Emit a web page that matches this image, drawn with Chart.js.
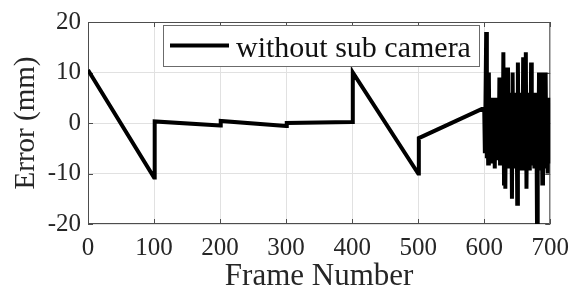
<!DOCTYPE html>
<html>
<head>
<meta charset="utf-8">
<script src="https://cdn.jsdelivr.net/npm/chart.js@4.4.1/dist/chart.umd.min.js"></script>
<style>
html, body { margin: 0; padding: 0; background: #fff; }
</style>
</head>
<body>
<canvas id="errChart" width="578" height="302"></canvas>
<script>
// data
const rampFrames = [0, 100, 101, 200, 201, 300, 301, 400, 401, 500, 501, 600];
const rampErrors = [10.5, -10.8, 0.3, -0.5, 0.4, -0.6, 0.0, 0.2, 10.0, -10.0, -3.0, 3.0];
// frames 601..700, one value per frame
const noiseErrors = [
    -6, 5, 18, -7, 4, -8, 10, -6, 5, -8,
    4, -7, 5, -6, 4, -9, 5, -7, 4, -6,
    5, -7, 9, -8, 6, -6, 4, -8, 14, -12,
    5, -13, 6, -7, 11, -9, 5, -7, 6, -9,
    5, -15, 10, -8, 5, -7, 6, -9, 5, -16,
    12, -7, 6, -8, 5, -9, 6, -8, 13, -7,
    5, -9, 14, -13, 6, -8, 5, -9, 6, -8,
    12, -7, 5, -8, 6, -9, 5, -8, 4, -22,
    6, -8, 10, -7, 5, -9, 6, -12, 10, -8,
    5, -9, 10, -7, 4, -10, 5, -8, 4, -3];
const noiseStart = 601;
const xTicks = [0, 100, 200, 300, 400, 500, 600, 700];
const yTicks = [-20, -10, 0, 10, 20];
const seriesLabel = "without sub camera";

const SERIF = "'Liberation Serif', 'Times New Roman', serif";
const TEXT = "#262626";

let points = rampFrames.map((f, i) => ({ x: f, y: rampErrors[i] }));
noiseErrors.forEach((e, i) => points.push({ x: noiseStart + i, y: e }));

// matlab style box with inward ticks
const boxPlugin = {
    id: "box",
    beforeDatasetsDraw(chart) {
        const { ctx, chartArea: a, scales } = chart;
        ctx.save();
        ctx.strokeStyle = "#4d4d4d";
        ctx.lineWidth = 1;
        ctx.beginPath();
        ctx.rect(a.left + 0.5, a.top + 0.5, a.right - a.left - 1, a.bottom - a.top - 1);
        xTicks.forEach(v => {
            let px = Math.round(scales.x.getPixelForValue(v)) + 0.5;
            ctx.moveTo(px, a.bottom); ctx.lineTo(px, a.bottom - 5);
            ctx.moveTo(px, a.top); ctx.lineTo(px, a.top + 5);
        });
        yTicks.forEach(v => {
            let py = Math.round(scales.y.getPixelForValue(v)) + 0.5;
            ctx.moveTo(a.left, py); ctx.lineTo(a.left + 5, py);
            ctx.moveTo(a.right, py); ctx.lineTo(a.right - 5, py);
        });
        ctx.stroke();
        ctx.restore();
    },
    afterDraw(chart) {
        // legend box inside the axes
        const { ctx } = chart;
        const ds = chart.data.datasets[0];
        ctx.save();
        ctx.fillStyle = "#fff";
        ctx.fillRect(163, 25, 316, 41);
        ctx.strokeStyle = "#6b6b6b";
        ctx.lineWidth = 1;
        ctx.strokeRect(163.5, 25.5, 316, 41);
        ctx.strokeStyle = ds.borderColor;
        ctx.lineWidth = ds.borderWidth;
        ctx.beginPath();
        ctx.moveTo(170, 45.5); ctx.lineTo(229, 45.5);
        ctx.stroke();
        ctx.fillStyle = "#111";
        ctx.font = "30px " + SERIF;
        ctx.textBaseline = "alphabetic";
        ctx.fillText(ds.label, 236, 57);
        ctx.restore();
    }
};

new Chart(document.getElementById("errChart"), {
    type: "line",
    data: {
        datasets: [{
            label: seriesLabel,
            data: points,
            borderColor: "#000",
            borderWidth: 4,
            pointRadius: 0,
            tension: 0,
            fill: false
        }]
    },
    options: {
        responsive: false,
        animation: false,
        devicePixelRatio: 1,
        layout: { padding: { top: 19, right: 23, left: 0, bottom: 0 } },
        plugins: { legend: { display: false }, tooltip: { enabled: false } },
        scales: {
            x: {
                type: "linear",
                min: 0, max: 700,
                afterBuildTicks: s => { s.ticks = xTicks.map(v => ({ value: v })); },
                afterFit: s => { s.height = 78; },
                grid: { color: "#e1e1e1", drawTicks: false },
                border: { display: false },
                ticks: { padding: 9, color: TEXT, font: { family: SERIF, size: 25 }, maxRotation: 0 },
                title: { display: true, text: "Frame Number", color: TEXT, font: { family: SERIF, size: 31, lineHeight: 1 }, padding: { top: 0, bottom: 10 } }
            },
            y: {
                min: -20, max: 20,
                afterBuildTicks: s => { s.ticks = yTicks.map(v => ({ value: v })); },
                afterFit: s => { s.width = 88; },
                grid: { color: "#e1e1e1", drawTicks: false },
                border: { display: false },
                ticks: { padding: 7, color: TEXT, font: { family: SERIF, size: 25 } },
                title: { display: true, text: "Error (mm)", color: TEXT, font: { family: SERIF, size: 29, lineHeight: 1 }, padding: { top: 12, bottom: 0 } }
            }
        }
    },
    plugins: [boxPlugin]
});
</script>
</body>
</html>
